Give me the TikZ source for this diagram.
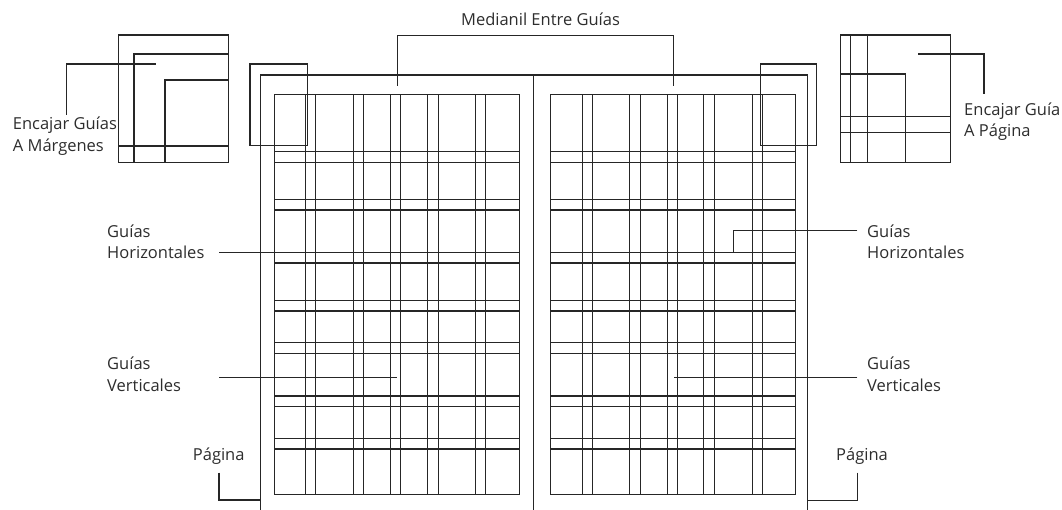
\documentclass[tikz,border=0pt]{standalone}
\usepackage{fontspec}
\setmainfont{Open Sans}
\usetikzlibrary{positioning, calc}
\definecolor{GuideInk}{RGB}{38, 38, 38}
\definecolor{LabelInk}{RGB}{45, 45, 45}

\begin{document}
\begin{tikzpicture}[
    x=1pt, y=-1pt,
    font=\fontsize{16.5}{21.5}\selectfont,
    guidestyle/.style={draw=GuideInk, line width=1.1pt},
    leaderstyle/.style={draw=GuideInk, line width=1.1pt},
    labelstyle/.style={text=LabelInk, inner sep=0pt, align=left}
]
    \useasboundingbox (0,0) rectangle (1062,510);

    % Spread: outer page edge and spine
    \draw [guidestyle] (260.7,512) -- (260.7,75) -- (807.3,75) -- (807.3,512);
    \draw [guidestyle] (533.8,75) -- (533.8,512);

    % Margins with vertical and horizontal guides
    \foreach \px in {274.3, 550.7} {
        \draw [guidestyle] (\px,94.3) rectangle ++(245,400);
        \foreach \cx in {31.5, 41.5, 79, 89.5, 116.5, 126.5, 153, 164, 201.5, 211.5}
            \draw [guidestyle] (\px+\cx,94.3) -- ++(0,400);
        \foreach \ry in {151.7, 162.3, 199.5, 210, 252.5, 263, 300.5, 311, 342.7, 353.3, 396, 406.5, 438.3, 449}
            \draw [guidestyle] (\px,\ry) -- ++(245,0);
    }

    % Corner callouts on the spread
    \draw [guidestyle] (250,64) rectangle (307.3,145.7);
    \draw [guidestyle] (760.7,64) rectangle (816.7,145.7);

    % Inset: snap to margins
    \draw [guidestyle] (118.3,35) rectangle (228.3,162.3);
    \draw [guidestyle] (134,162.3) -- (134,54) -- (228.3,54);
    \draw [guidestyle] (165,162.3) -- (165,80) -- (228.3,80);
    \draw [guidestyle] (118.3,146) -- (228.3,146);

    % Inset: snap to page
    \draw [guidestyle] (840.7,35) rectangle (950.7,162.3);
    \draw [guidestyle] (850.7,35) -- (850.7,162.3);
    \draw [guidestyle] (867.3,35) -- (867.3,162.3);
    \draw [guidestyle] (840.7,74) -- (905.7,74) -- (905.7,162.3);
    \draw [guidestyle] (840.7,116.7) -- (950.7,116.7);
    \draw [guidestyle] (840.7,132.3) -- (950.7,132.3);

    % Labels
    \node (lbl_medianil) [labelstyle, anchor=base] at (540.5,25.5) {Medianil Entre Guías};
    \node (lbl_margenes) [labelstyle, anchor=west] at (12.7,136.3) {Encajar Guías\\A Márgenes};
    \node (lbl_pagina_fit) [labelstyle, anchor=west] at (964,121.6) {Encajar Guía\\A Página};
    \node (lbl_horiz_l) [labelstyle, anchor=west] at (107,242) {Guías\\Horizontales};
    \node (lbl_vert_l) [labelstyle, anchor=west] at (107,374.5) {Guías\\Verticales};
    \node (lbl_horiz_r) [labelstyle, anchor=west] at (867,242) {Guías\\Horizontales};
    \node (lbl_vert_r) [labelstyle, anchor=west] at (867,374.5) {Guías\\Verticales};
    \node (lbl_pag_l) [labelstyle, anchor=base west] at (192.7,460) {Página};
    \node (lbl_pag_r) [labelstyle, anchor=base west] at (836,460) {Página};

    % Leader end points
    \coordinate (med_l) at (397.3,86);
    \coordinate (med_r) at (673.3,86);
    \coordinate (mg_foot) at (66.7,115);
    \coordinate (mg_tip) at (155.7,64);
    \coordinate (pf_foot) at (984,94);
    \coordinate (pf_tip) at (918.3,54);
    \coordinate (hl_foot) at (219,252.5);
    \coordinate (hl_tip) at (274.3,252.5);
    \coordinate (vl_foot) at (219,377.3);
    \coordinate (vl_tip) at (396.5,377.3);
    \coordinate (hr_foot) at (857.3,230.7);
    \coordinate (hr_tip) at (733.3,252.5);
    \coordinate (vr_foot) at (857.3,377.3);
    \coordinate (vr_tip) at (674,377.3);
    \coordinate (pl_foot) at (219,472.7);
    \coordinate (pl_tip) at (260.7,500);
    \coordinate (pr_foot) at (857.7,472.7);
    \coordinate (pr_tip) at (807.3,500.5);

    % Leaders
    \draw [leaderstyle] (med_l) -- ++(0,-50.3) -| (med_r);
    \draw [leaderstyle] (mg_foot) |- (mg_tip);
    \draw [leaderstyle] (pf_foot) |- (pf_tip);
    \draw [leaderstyle] (hl_foot) -- (hl_tip);
    \draw [leaderstyle] (vl_foot) -- (vl_tip);
    \draw [leaderstyle] (hr_foot) -| (hr_tip);
    \draw [leaderstyle] (vr_foot) -- (vr_tip);
    \draw [leaderstyle] (pl_foot) |- (pl_tip);
    \draw [leaderstyle] (pr_foot) |- (pr_tip);

\end{tikzpicture}
\end{document}
